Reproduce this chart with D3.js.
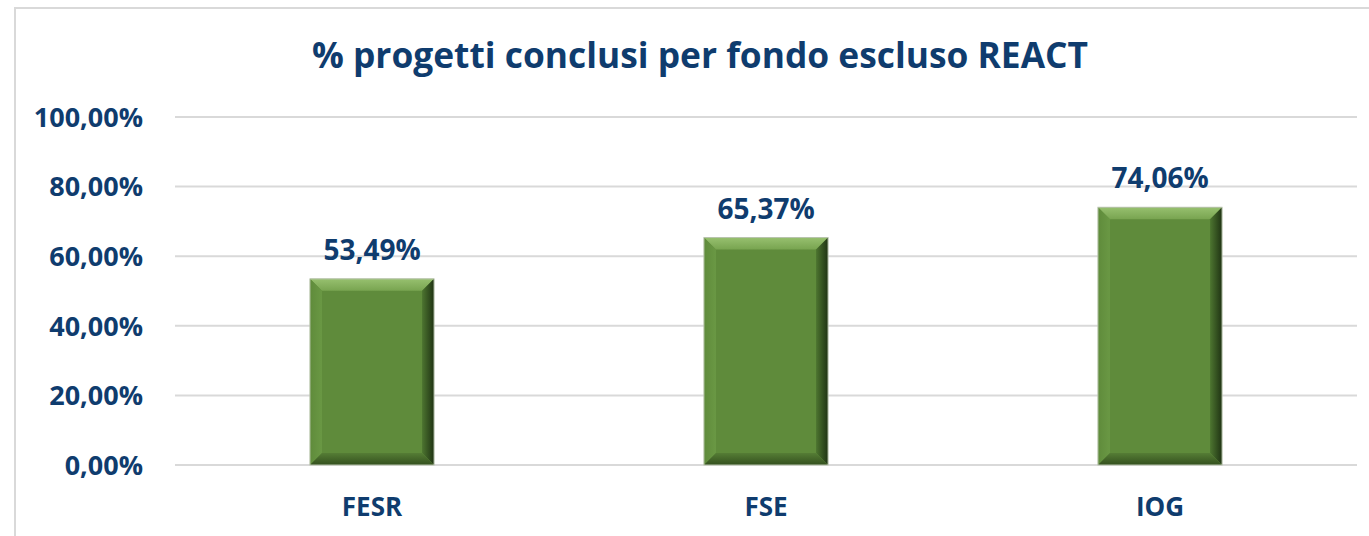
<!DOCTYPE html>
<html>
<head>
    <meta charset="utf-8">
    <title>% progetti conclusi per fondo escluso REACT</title>
    <script src="https://d3js.org/d3.v7.min.js"></script>
    <style>
        body { margin: 0; background: #fff; }
        text { font-family: "Open Sans", sans-serif; font-weight: bold; fill: #0f3c6e; }
    </style>
</head>
<body>
    <div id="chart"></div>
    <script>
        // data
        const categories = ['FESR', 'FSE', 'IOG'];
        const values = [53.49, 65.37, 74.06];
        const yTicks = [0, 20, 40, 60, 80, 100];
        const title = '% progetti conclusi per fondo escluso REACT';

        const width = 1369, height = 536;
        const margin = { left: 175, right: 12, top: 117, bottom: 71 };

        const fmt = v => v.toFixed(2).replace('.', ',') + '%';

        const svg = d3.select('#chart').append('svg')
            .attr('width', width)
            .attr('height', height);

        // outer chart frame
        svg.append('rect')
            .attr('x', 15).attr('y', 8)
            .attr('width', width).attr('height', height)
            .attr('fill', 'none')
            .attr('stroke', '#d9d9d9')
            .attr('stroke-width', 2);

        const x = d3.scaleBand()
            .domain(categories)
            .range([margin.left, width - margin.right])
            .paddingInner(0.685)
            .paddingOuter(0.3425);

        const y = d3.scaleLinear()
            .domain([0, 100])
            .range([height - margin.bottom, margin.top]);

        // grid lines
        svg.append('g')
            .selectAll('line')
            .data(yTicks)
            .join('line')
            .attr('x1', margin.left)
            .attr('x2', width - margin.right)
            .attr('y1', d => y(d))
            .attr('y2', d => y(d))
            .attr('stroke', '#d9d9d9')
            .attr('stroke-width', 2);

        // y labels
        svg.append('g')
            .selectAll('text')
            .data(yTicks)
            .join('text')
            .attr('x', margin.left - 32)
            .attr('y', d => y(d))
            .attr('dy', '0.36em')
            .attr('text-anchor', 'end')
            .style('font-size', '27px')
            .text(d => fmt(d));

        // gradients for the bevel look
        const defs = svg.append('defs');
        function grad(id, x2, y2, stops) {
            const g = defs.append('linearGradient').attr('id', id)
                .attr('x1', 0).attr('y1', 0).attr('x2', x2).attr('y2', y2);
            stops.forEach(s => g.append('stop').attr('offset', s[0]).attr('stop-color', s[1]));
        }
        grad('gTop', 0, 1, [[0, '#97c06f'], [1, '#78a450']]);
        grad('gRight', 1, 0, [[0, '#4d7530'], [1, '#1f3313']]);
        grad('gBottom', 0, 1, [[0, '#557d35'], [1, '#34501e']]);
        grad('gLeft', 1, 0, [[0, '#5f8b3b'], [1, '#6a9844']]);

        const bev = 12;
        const bars = svg.append('g')
            .selectAll('g')
            .data(categories.map((c, i) => ({ c, v: values[i] })))
            .join('g');

        bars.each(function (d) {
            const g = d3.select(this);
            const x0 = x(d.c), x1 = x0 + x.bandwidth();
            const y0 = y(d.v), y1 = y(0);
            g.append('rect')
                .attr('x', x0).attr('y', y0)
                .attr('width', x1 - x0).attr('height', y1 - y0)
                .attr('fill', '#5f8b3b');
            const poly = (pts, fill) => g.append('polygon')
                .attr('points', pts.map(p => p.join(',')).join(' '))
                .attr('fill', fill);
            poly([[x0, y0], [x1, y0], [x1 - bev, y0 + bev], [x0 + bev, y0 + bev]], 'url(#gTop)');
            poly([[x0, y0], [x0 + bev, y0 + bev], [x0 + bev, y1 - bev], [x0, y1]], 'url(#gLeft)');
            poly([[x1, y0], [x1, y1], [x1 - bev, y1 - bev], [x1 - bev, y0 + bev]], 'url(#gRight)');
            poly([[x0, y1], [x0 + bev, y1 - bev], [x1 - bev, y1 - bev], [x1, y1]], 'url(#gBottom)');
            g.append('rect')
                .attr('x', x0).attr('y', y0)
                .attr('width', x1 - x0).attr('height', y1 - y0)
                .attr('fill', 'none')
                .attr('stroke', '#b9c4ae')
                .attr('stroke-width', 1);
        });

        // value labels
        bars.append('text')
            .attr('x', d => x(d.c) + x.bandwidth() / 2)
            .attr('y', d => y(d.v) - 19)
            .attr('text-anchor', 'middle')
            .style('font-size', '28px')
            .text(d => fmt(d.v));

        // category labels
        svg.append('g')
            .selectAll('text')
            .data(categories)
            .join('text')
            .attr('x', d => x(d) + x.bandwidth() / 2)
            .attr('y', 516)
            .attr('text-anchor', 'middle')
            .style('font-size', '26px')
            .text(d => d);

        // title
        svg.append('text')
            .attr('x', 700)
            .attr('y', 68)
            .attr('text-anchor', 'middle')
            .attr('textLength', 776)
            .attr('lengthAdjust', 'spacingAndGlyphs')
            .style('font-size', '35px')
            .text(title);
    </script>
</body>
</html>
